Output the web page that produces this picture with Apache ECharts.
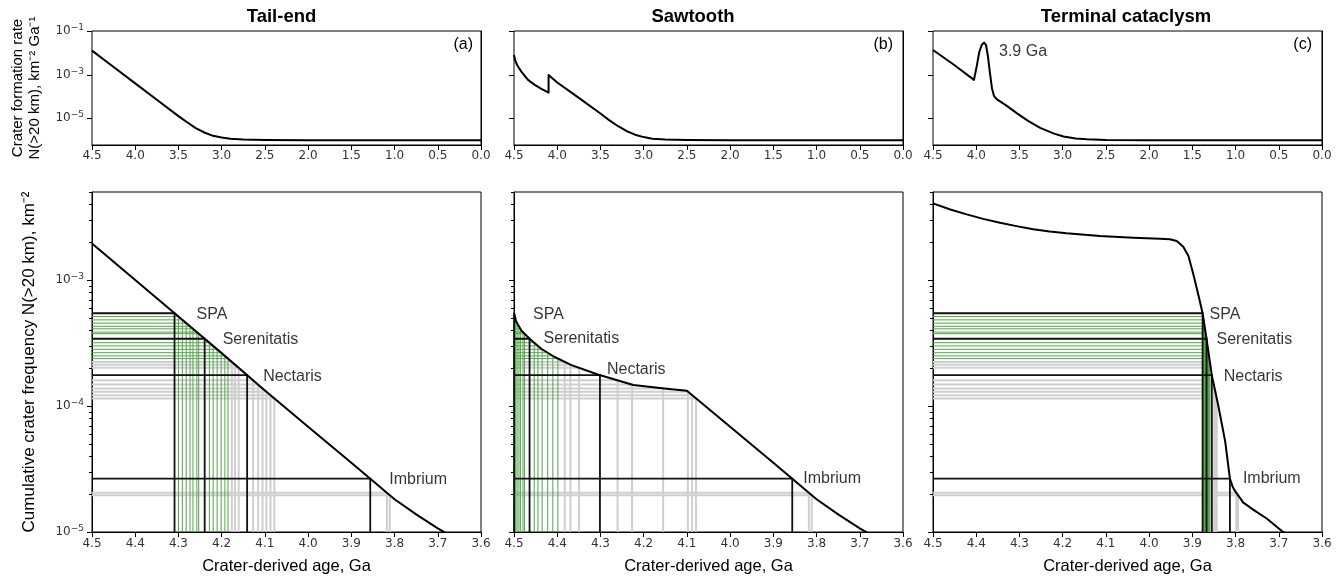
<!DOCTYPE html>
<html><head><meta charset="utf-8">
<script src="https://cdn.jsdelivr.net/npm/echarts@6/dist/echarts.min.js"></script>
<style>html,body{margin:0;padding:0;background:#fff}#c{width:1342px;height:580px}</style>
</head><body><div id="c"></div>
<script>
// ================= DATA =================
const panelTitles = ['Tail-end', 'Sawtooth', 'Terminal cataclysm'];
const panelLetters = ['(a)', '(b)', '(c)'];
const basinNames = ['SPA', 'Serenitatis', 'Nectaris', 'Imbrium'];

// Top row: crater formation rate vs age (Ga)
const rateAgesA = [4.5, 4.25, 4.0, 3.75, 3.5, 3.4, 3.3, 3.2, 3.1, 3.0, 2.9, 2.75, 2.5, 2.0, 1.0, 0.0];
const rateA = [1.26e-2, 2.24e-3, 3.98e-4, 7.08e-5, 1.26e-5, 6.6e-6, 3.55e-6, 2.24e-6, 1.58e-6, 1.32e-6, 1.17e-6, 1.07e-6, 1.02e-6, 1.0e-6, 1.0e-6, 1.0e-6];

const rateAgesB = [4.5, 4.484, 4.461, 4.415, 4.338, 4.26, 4.183, 4.1, 4.1, 4.0, 3.75, 3.5, 3.4, 3.3, 3.2, 3.1, 3.0, 2.9, 2.75, 2.5, 2.0, 1.0, 0.0];
const rateB = [8.0e-3, 4.27e-3, 2.63e-3, 1.38e-3, 5.75e-4, 3.39e-4, 2.24e-4, 1.51e-4, 9.55e-4, 4.37e-4, 8.7e-5, 1.66e-5, 8.3e-6, 4.47e-6, 2.63e-6, 1.78e-6, 1.38e-6, 1.17e-6, 1.07e-6, 1.02e-6, 1.0e-6, 1.0e-6, 1.0e-6];

const rateAgesC = [4.5, 4.25, 4.026, 3.995, 3.964, 3.937, 3.922, 3.91, 3.898, 3.887, 3.864, 3.841, 3.818, 3.795, 3.764, 3.65, 3.532, 3.4, 3.26, 3.1, 2.99, 2.85, 2.72, 2.5, 2.0, 1.0, 0.0];
const rateC = [1.35e-2, 2.69e-3, 5.75e-4, 2.34e-3, 1.12e-2, 2.29e-2, 2.82e-2, 2.95e-2, 2.75e-2, 2.29e-2, 6.76e-3, 1.17e-3, 2.40e-4, 1.07e-4, 7.59e-5, 3.80e-5, 1.74e-5, 7.59e-6, 3.63e-6, 2.0e-6, 1.48e-6, 1.20e-6, 1.10e-6, 1.02e-6, 1.0e-6, 1.0e-6, 1.0e-6];

// Bottom row: cumulative crater frequency vs crater-derived age
const cumAgesA = [4.5, 4.4, 4.3, 4.2, 4.1, 4.0, 3.9, 3.8, 3.75, 3.7, 3.65, 3.6];
const cumA = [1.95e-3, 1.0e-3, 5.13e-4, 2.63e-4, 1.33e-4, 6.84e-5, 3.55e-5, 1.82e-5, 1.38e-5, 1.07e-5, 8.5e-6, 6.9e-6];

const cumAgesB = [4.5, 4.495, 4.483, 4.464, 4.437, 4.406, 4.367, 4.306, 4.224, 4.147, 4.1, 4.0, 3.9, 3.8, 3.75, 3.7, 3.65, 3.6];
const cumB = [5.5e-4, 4.68e-4, 3.98e-4, 3.42e-4, 2.85e-4, 2.45e-4, 2.11e-4, 1.78e-4, 1.47e-4, 1.37e-4, 1.32e-4, 6.84e-5, 3.55e-5, 1.82e-5, 1.38e-5, 1.07e-5, 8.5e-6, 6.9e-6];

const cumAgesC = [4.5, 4.46, 4.422, 4.384, 4.345, 4.307, 4.268, 4.23, 4.191, 4.114, 4.037, 3.975, 3.952, 3.936, 3.921, 3.909, 3.898, 3.886, 3.876, 3.867, 3.855, 3.84, 3.824, 3.813, 3.807, 3.801, 3.782, 3.755, 3.728, 3.69, 3.6];
const cumC = [4.06e-3, 3.63e-3, 3.32e-3, 3.06e-3, 2.85e-3, 2.68e-3, 2.53e-3, 2.43e-3, 2.35e-3, 2.24e-3, 2.17e-3, 2.13e-3, 2.11e-3, 2.04e-3, 1.84e-3, 1.55e-3, 1.12e-3, 7.6e-4, 5.4e-4, 3.4e-4, 1.76e-4, 1.01e-4, 5.24e-5, 2.64e-5, 2.3e-5, 2.11e-5, 1.71e-5, 1.47e-5, 1.28e-5, 1.0e-5, 6.9e-6];

// Crater densities N(>20 km) of the basins and of the alternative estimates
const basinN = [5.45e-4, 3.42e-4, 1.76e-4, 2.65e-5];
const greenN = [5.13e-4, 4.83e-4, 4.55e-4, 4.29e-4, 4.10e-4, 3.86e-4, 3.75e-4, 3.18e-4, 3.00e-4, 2.82e-4, 2.65e-4, 2.50e-4, 2.38e-4];
const grayN = [2.24e-4, 2.13e-4, 2.01e-4, 1.60e-4, 1.48e-4, 1.38e-4, 1.30e-4, 1.22e-4, 1.15e-4, 2.05e-5, 1.96e-5];

// Annotation in panel (c)
const peakLabel = '3.9 Ga';
const peakAge = 3.91;
const peakRate = 2.95e-2;

// Axis ticks
const rateYTicks = [1e-1, 1e-3, 1e-5];
const cumYTicks = [1e-3, 1e-4, 1e-5];
const cumYMinor = [2e-5, 3e-5, 4e-5, 5e-5, 6e-5, 7e-5, 8e-5, 9e-5, 2e-4, 3e-4, 4e-4, 5e-4, 6e-4, 7e-4, 8e-4, 9e-4, 2e-3, 3e-3, 4e-3, 5e-3];

// ================= LAYOUT / STYLE =================
const lefts = [92, 514, 933], W = 389;
const TOP_T = 31, TOP_H = 114, BOT_T = 192, BOT_H = 342;
const RATE_MIN = 6.0e-7, RATE_MAX = 1e-1, CUM_MIN = 1e-5, CUM_MAX = 5e-3;
const AGE_L = 4.5, AGE_R = 3.6;
const titleX = [281.5, 693, 1126];
const letterRight = [473, 893, 1312];
const labelOffsets = [
  [[22, 1], [18, 1], [16, 1], [19, 1]],
  [[19, 1], [14, 0], [7, -6], [11, 0]],
  [[7, 1], [10, 1], [12, 1], [13, 0]]
];
const SANS = 'Liberation Sans, Arial, Helvetica, sans-serif';
const TICKF = 'DejaVu Sans, sans-serif';

const rateSets = [[rateAgesA, rateA], [rateAgesB, rateB], [rateAgesC, rateC]];
const cumSets = [[cumAgesA, cumA], [cumAgesB, cumB], [cumAgesC, cumC]];

function crossAge(ages, vals, N) {
  const L = Math.log10(N);
  for (let i = 0; i < ages.length - 1; i++) {
    const a = Math.log10(vals[i]), b = Math.log10(vals[i + 1]);
    if ((a - L) * (b - L) <= 0 && a !== b) {
      const f = (L - a) / (b - a);
      return ages[i] + f * (ages[i + 1] - ages[i]);
    }
  }
  return null;
}
function lShapes(ages, vals, Ns) {
  return Ns.map(N => {
    const t = crossAge(ages, vals, N);
    return { coords: [[AGE_L, N], [t, N], [t, CUM_MIN]] };
  });
}
function supLabel(list) {
  return function (v) {
    const lg = Math.log10(v), e = Math.round(lg);
    if (Math.abs(lg - e) > 1e-6) return '';
    if (!list.some(t => Math.abs(Math.log10(t) - e) < 1e-6)) return '';
    return '{n|10}{e|' + (e < 0 ? '\u2212' : '') + Math.abs(e) + '}';
  };
}
const richSup = {
  n: { fontFamily: TICKF, fontSize: 12, color: '#333', lineHeight: 16 },
  e: { fontFamily: TICKF, fontSize: 9, color: '#333', verticalAlign: 'top', lineHeight: 10 }
};
function tickRender(len) {
  return function (params, api) {
    const p = api.coord([api.value(0), api.value(1)]);
    const y = Math.round(p[1]) + 0.5, x = Math.round(p[0]);
    return { type: 'line', shape: { x1: x - len, y1: y, x2: x, y2: y }, style: { stroke: '#000', lineWidth: 1 } };
  };
}

const grid = [], xAxis = [], yAxis = [], series = [], graphic = [];
for (let p = 0; p < 3; p++) {
  grid.push({ left: lefts[p], top: TOP_T, width: W, height: TOP_H, show: true, borderColor: '#000', borderWidth: 1 });
}
for (let p = 0; p < 3; p++) {
  grid.push({ left: lefts[p], top: BOT_T, width: W, height: BOT_H, show: true, borderColor: '#000', borderWidth: 1 });
}
const axLine = { show: true, lineStyle: { color: '#000', width: 1 } };
for (let p = 0; p < 3; p++) {
  xAxis.push({
    gridIndex: p, type: 'value', min: 0, max: 4.5, interval: 0.5, inverse: true,
    axisLine: axLine, axisTick: { show: true, length: 5, lineStyle: { color: '#000' } },
    axisLabel: { margin: 5, fontFamily: TICKF, fontSize: 12, color: '#333', formatter: v => v.toFixed(1), hideOverlap: false },
    splitLine: { show: false }
  });
  yAxis.push({
    gridIndex: p, type: 'log', logBase: 10, min: RATE_MIN, max: RATE_MAX,
    axisLine: axLine, axisTick: { show: false }, splitLine: { show: false }, minorTick: { show: false },
    axisLabel: { show: p === 0, margin: 8, formatter: supLabel(rateYTicks), rich: richSup },
    name: p === 0 ? 'Crater formation rate\nN(>20 km), km\u207B\u00B2 Ga\u207B\u00B9' : '',
    nameLocation: 'middle', nameRotate: 90, nameGap: 49,
    nameTextStyle: { fontFamily: SANS, fontSize: 15, color: '#000', lineHeight: 17 }
  });
}
for (let p = 0; p < 3; p++) {
  xAxis.push({
    gridIndex: 3 + p, type: 'value', min: AGE_R, max: AGE_L, interval: 0.1, inverse: true,
    axisLine: axLine, axisTick: { show: true, length: 5, lineStyle: { color: '#000' } },
    axisLabel: { margin: 6, fontFamily: TICKF, fontSize: 12, color: '#333', formatter: v => v.toFixed(1), hideOverlap: false },
    splitLine: { show: false },
    name: 'Crater-derived age, Ga', nameLocation: 'middle', nameGap: 26,
    nameTextStyle: { fontFamily: SANS, fontSize: 16.5, color: '#000' }
  });
  yAxis.push({
    gridIndex: 3 + p, type: 'log', logBase: 10, min: CUM_MIN, max: CUM_MAX,
    axisLine: axLine, axisTick: { show: false }, splitLine: { show: false }, minorTick: { show: false },
    axisLabel: { show: p === 0, margin: 8, formatter: supLabel(cumYTicks), rich: richSup },
    name: p === 0 ? 'Cumulative crater frequency N(>20 km), km\u207B\u00B2' : '',
    nameLocation: 'middle', nameRotate: 90, nameGap: 54,
    nameTextStyle: { fontFamily: SANS, fontSize: 17, color: '#000' }
  });
}

for (let p = 0; p < 3; p++) {
  // top curve
  const [ra, rv] = rateSets[p];
  series.push({
    type: 'line', xAxisIndex: p, yAxisIndex: p, data: ra.map((a, i) => [a, rv[i]]),
    showSymbol: false, symbol: 'none',
    lineStyle: { color: '#000', width: 2, join: 'round' }, z: 4, clip: true
  });
  // top y ticks
  series.push({
    type: 'custom', xAxisIndex: p, yAxisIndex: p, renderItem: tickRender(5),
    data: rateYTicks.map(v => [4.5, v]), z: 6, silent: true, clip: false
  });
  // bottom
  const gi = 3 + p;
  const [ca, cv] = cumSets[p];
  series.push({
    type: 'lines', coordinateSystem: 'cartesian2d', xAxisIndex: gi, yAxisIndex: gi, polyline: true,
    data: lShapes(ca, cv, grayN), lineStyle: { color: '#cfcfcf', width: 2, opacity: 1 }, z: 1, silent: true
  });
  series.push({
    type: 'lines', coordinateSystem: 'cartesian2d', xAxisIndex: gi, yAxisIndex: gi, polyline: true,
    data: lShapes(ca, cv, greenN), lineStyle: { color: '#52a648', width: 1, opacity: 1 }, z: 2, silent: true
  });
  series.push({
    type: 'lines', coordinateSystem: 'cartesian2d', xAxisIndex: gi, yAxisIndex: gi, polyline: true,
    data: lShapes(ca, cv, basinN), lineStyle: { color: '#111', width: 1.8, opacity: 1 }, z: 3, silent: true
  });
  series.push({
    type: 'line', xAxisIndex: gi, yAxisIndex: gi, data: ca.map((a, i) => [a, cv[i]]),
    showSymbol: false, symbol: 'none',
    lineStyle: { color: '#000', width: 2, join: 'round' }, z: 4, clip: true
  });
  series.push({
    type: 'scatter', xAxisIndex: gi, yAxisIndex: gi, symbolSize: 0, z: 5, silent: true,
    data: basinN.map((N, i) => ({
      name: basinNames[i], value: [crossAge(ca, cv, N), N],
      label: { offset: labelOffsets[p][i] }
    })),
    label: { show: true, position: 'right', distance: 0, formatter: '{b}', fontFamily: SANS, fontSize: 16, color: '#000' }
  });
  series.push({
    type: 'custom', xAxisIndex: gi, yAxisIndex: gi, renderItem: tickRender(5),
    data: cumYTicks.map(v => [AGE_L, v]), z: 6, silent: true, clip: false
  });
  series.push({
    type: 'custom', xAxisIndex: gi, yAxisIndex: gi, renderItem: tickRender(3),
    data: cumYMinor.map(v => [AGE_L, v]), z: 6, silent: true, clip: false
  });

  graphic.push({ type: 'text', x: titleX[p], y: 17, style: { text: panelTitles[p], align: 'center', verticalAlign: 'middle', fontFamily: SANS, fontSize: 18.5, fontWeight: 'bold', fill: '#000' } });
  graphic.push({ type: 'text', x: letterRight[p], y: 45, style: { text: panelLetters[p], align: 'right', verticalAlign: 'middle', fontFamily: SANS, fontSize: 16, fill: '#000' } });
}
series.push({
  type: 'scatter', xAxisIndex: 2, yAxisIndex: 2, symbolSize: 0, z: 5, silent: true,
  data: [{ name: peakLabel, value: [peakAge, peakRate] }],
  label: { show: true, position: 'right', distance: 0, offset: [15, 9], formatter: '{b}', fontFamily: SANS, fontSize: 16, color: '#000' }
});

const chart = echarts.init(document.getElementById('c'), null, { renderer: 'canvas', width: 1342, height: 580 });
chart.setOption({
  animation: false, backgroundColor: '#fff',
  grid, xAxis, yAxis, series, graphic,
  tooltip: { show: false }
});
</script></body></html>
